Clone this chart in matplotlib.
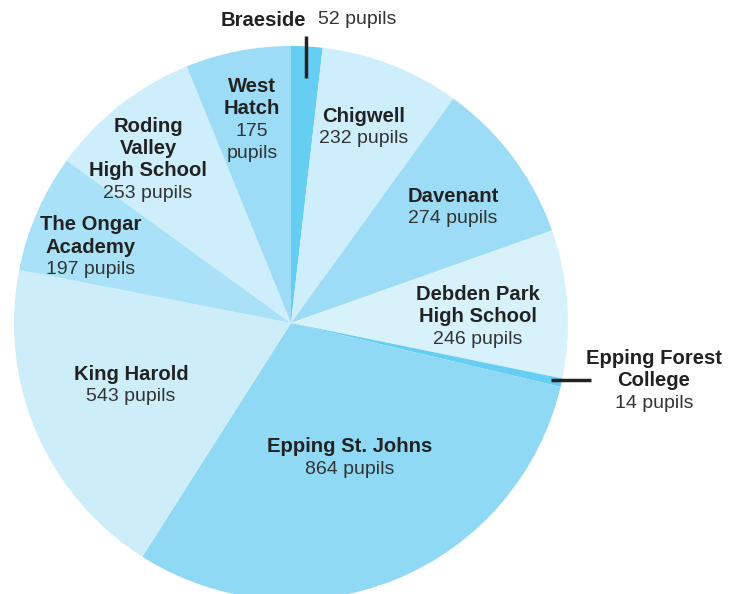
import matplotlib.pyplot as plt

schools = ['Braeside', 'Chigwell', 'Davenant', 'Debden Park\nHigh School',
           'Epping Forest\nCollege', 'Epping St. Johns', 'King Harold',
           'The Ongar\nAcademy', 'Roding\nValley\nHigh School', 'West\nHatch']
pupils = [52, 232, 274, 246, 14, 864, 543, 197, 253, 175]
colors = ['#66cdf3', '#cdeefa', '#9cdcf6', '#d8f2fc', '#66cdf3',
          '#8fd9f5', '#cdedf9', '#a9e2f8', '#cdeefa', '#9ddcf6']

# label anchor (x, y of first line) in pixel space, y from top
label_pos = {
    'Braeside': (265, 20), 'Chigwell': (364, 116), 'Davenant': (453, 196),
    'Debden Park\nHigh School': (478, 294), 'Epping Forest\nCollege': (654, 358),
    'Epping St. Johns': (350, 447), 'King Harold': (131, 374),
    'The Ongar\nAcademy': (91, 225), 'Roding\nValley\nHigh School': (148, 126),
    'West\nHatch': (252, 86),
}

W, H = 739, 594
fig = plt.figure(figsize=(W / 100, H / 100), dpi=100)
ax = fig.add_axes([0, 0, 1, 1])

cx, cy, r = 291, H - 323, 277
ax.pie(pupils, colors=colors, startangle=90, counterclock=False,
       center=(cx, cy), radius=r, frame=True,
       wedgeprops=dict(linewidth=0))
ax.set_xlim(0, W)
ax.set_ylim(0, H)
ax.set_aspect('equal')
ax.axis('off')

font = 'Liberation Sans'
bold_kw = dict(fontsize=14.6, fontweight='bold', color='#222222', family=font)
num_kw = dict(fontsize=14, color='#333333', family=font)
lh = 22.5
for name, n in zip(schools, pupils):
    x, y = label_pos[name]
    if name == 'Braeside':
        ax.text(306, H - y, name, ha='right', va='center', **bold_kw)
        ax.text(318, H - y, f'{n} pupils', ha='left', va='center', **num_kw)
        continue
    lines = name.split('\n')
    for i, line in enumerate(lines):
        ax.text(x, H - y - i * lh, line, ha='center', va='center', **bold_kw)
    y_num = y + len(lines) * lh
    if name == 'West\nHatch':
        ax.text(x, H - y_num, f'{n}', ha='center', va='center', **num_kw)
        ax.text(x, H - y_num - lh, 'pupils', ha='center', va='center', **num_kw)
    else:
        ax.text(x, H - y_num, f'{n} pupils', ha='center', va='center', **num_kw)

# leader lines for the two small slices
ax.plot([306, 306], [H - 36, H - 78], color='#222222', lw=2.5, solid_capstyle='butt')
ax.plot([551, 591], [H - 380, H - 380], color='#222222', lw=2.5, solid_capstyle='butt')

fig.savefig('out.png', dpi=100)
